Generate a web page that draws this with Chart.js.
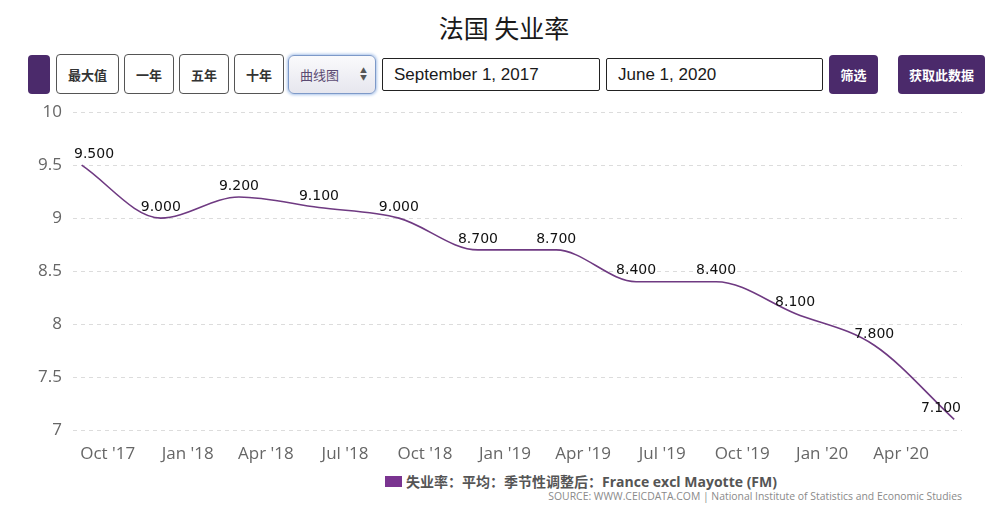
<!DOCTYPE html>
<html>
<head>
<meta charset="utf-8">
<script src="https://cdn.jsdelivr.net/npm/chart.js@4/dist/chart.umd.min.js"></script>
<style>
  html,body{margin:0;padding:0;background:#fff;width:1008px;height:522px;overflow:hidden;}
  body{position:relative;font-family:"Liberation Sans","Noto Sans CJK SC",sans-serif;}
  .abs{position:absolute;box-sizing:border-box;}
  #title{left:0;width:1008px;top:9px;text-align:center;font-family:"Noto Sans CJK SC",sans-serif;font-size:25px;color:#1a1a1a;line-height:36px;}
  .btn{top:54px;height:40px;border:1px solid #555;border-radius:4px;background:#fff;color:#333;font-family:"Noto Sans CJK SC",sans-serif;font-weight:bold;font-size:13px;display:flex;align-items:center;justify-content:center;}
  .pbtn{top:55px;height:39px;border-radius:4px;background:#4b2a6b;color:#fff;font-family:"Noto Sans CJK SC",sans-serif;font-weight:bold;font-size:13px;display:flex;align-items:center;justify-content:center;}
  .inp{top:58px;height:33px;border:1px solid #222;border-radius:2px;background:#fff;color:#1a1a1a;font-size:17px;padding-left:11px;display:flex;align-items:center;}
  #sel{left:288px;top:55px;width:88px;height:39px;border:1px solid #7d99c8;border-radius:6px;box-shadow:0 0 3px 1px #a9c3ea;background:linear-gradient(#fafafc,#e6e6ee);color:#5b4a72;font-family:"Noto Sans CJK SC",sans-serif;font-size:13px;display:flex;align-items:center;padding-left:11px;}
  #arr{position:absolute;right:8px;top:11px;font-size:7px;line-height:7px;color:#555;}
  #chartWrap{left:0;top:91px;width:1008px;height:374px;}
  #legend{left:385px;top:471px;height:20px;display:flex;align-items:center;font-family:"Open Sans","Noto Sans CJK SC",sans-serif;font-weight:bold;font-size:14px;color:#555;white-space:nowrap;}
  #legend .sw{width:17px;height:11px;background:#7a3490;margin-right:4px;}
  #source{right:46px;top:489px;font-family:"Open Sans",sans-serif;font-size:10.4px;color:#8a8a8a;white-space:nowrap;}
</style>
</head>
<body>
<div id="title" class="abs">法国 失业率</div>
<div class="abs pbtn" style="left:28px;width:22px;"></div>
<div class="abs btn" style="left:56px;width:63px;">最大值</div>
<div class="abs btn" style="left:124px;width:50px;">一年</div>
<div class="abs btn" style="left:179px;width:50px;">五年</div>
<div class="abs btn" style="left:234px;width:50px;">十年</div>
<div id="sel" class="abs">曲线图<div id="arr">▲<br>▼</div></div>
<div class="abs inp" style="left:382px;width:218px;">September 1, 2017</div>
<div class="abs inp" style="left:606px;width:217px;">June 1, 2020</div>
<div class="abs pbtn" style="left:829px;width:49px;">筛选</div>
<div class="abs pbtn" style="left:898px;width:87px;">获取此数据</div>
<div id="chartWrap" class="abs"><canvas id="c" width="1008" height="374"></canvas></div>
<div id="legend" class="abs"><div class="sw"></div>失业率：平均：季节性调整后：France excl Mayotte (FM)</div>
<div id="source" class="abs">SOURCE: WWW.CEICDATA.COM | National Institute of Statistics and Economic Studies</div>
<script>
const dates = ["2017-09-01","2017-12-01","2018-03-01","2018-06-01","2018-09-01","2018-12-01","2019-03-01","2019-06-01","2019-09-01","2019-12-01","2020-03-01","2020-06-01"];
const values = [9.5, 9.0, 9.2, 9.1, 9.0, 8.7, 8.7, 8.4, 8.4, 8.1, 7.8, 7.1];
const tickDates = ["2017-10-01","2018-01-01","2018-04-01","2018-07-01","2018-10-01","2019-01-01","2019-04-01","2019-07-01","2019-10-01","2020-01-01","2020-04-01"];
const tickLabels = ["Oct '17","Jan '18","Apr '18","Jul '18","Oct '18","Jan '19","Apr '19","Jul '19","Oct '19","Jan '20","Apr '20"];
const yTicks = [7, 7.5, 8, 8.5, 9, 9.5, 10];
const seriesName = "失业率：平均：季节性调整后：France excl Mayotte (FM)";

const day = s => Date.parse(s + "T00:00:00Z") / 86400000;
const points = dates.map((d, i) => ({x: day(d), y: values[i]}));
const tickVals = tickDates.map(day);
const xMin = day("2017-08-22"), xMax = day("2020-06-10");

const labelPlugin = {
  id: 'valLabels',
  afterDatasetsDraw(chart) {
    const ctx = chart.ctx, meta = chart.getDatasetMeta(0), area = chart.chartArea;
    ctx.save();
    ctx.font = '14px "DejaVu Sans"';
    ctx.fillStyle = '#111';
    ctx.textBaseline = 'bottom';
    ctx.textAlign = 'left';
    meta.data.forEach((pt, i) => {
      const txt = values[i].toFixed(3);
      const w = ctx.measureText(txt).width;
      let x = pt.x - w / 2;
      if (x < area.left) x = area.left + 1;
      if (x + w > area.right) x = area.right - w - 1;
      ctx.fillText(txt, x, pt.y - 4);
    });
    ctx.restore();
  }
};

new Chart(document.getElementById('c'), {
  type: 'line',
  data: {
    datasets: [{
      label: seriesName,
      data: points,
      borderColor: '#6f3a82',
      borderWidth: 1.6,
      pointRadius: 0,
      fill: false,
      cubicInterpolationMode: 'monotone'
    }]
  },
  options: {
    responsive: false,
    animation: false,
    layout: {padding: {top: 3, right: 46, left: 0, bottom: 0}},
    plugins: {legend: {display: false}, tooltip: {enabled: false}},
    scales: {
      x: {
        type: 'linear',
        min: xMin, max: xMax,
        afterBuildTicks: s => { s.ticks = tickVals.map(v => ({value: v})); },
        afterFit: s => { s.height = 35; },
        grid: {display: false},
        border: {display: false},
        ticks: {
          autoSkip: false, maxRotation: 0, padding: 6,
          color: '#666', font: {family: '"Open Sans"', size: 17},
          callback: v => { const i = tickVals.indexOf(v); return i >= 0 ? tickLabels[i] : ''; }
        }
      },
      y: {
        min: 7, max: 10,
        afterBuildTicks: s => { s.ticks = yTicks.map(v => ({value: v})); },
        afterFit: s => { s.width = 73; },
        border: {display: false, dash: [4, 4]},
        grid: {color: '#dcdcdc', lineWidth: 1, drawTicks: false},
        ticks: {
          padding: 11, color: '#666', font: {family: '"Open Sans"', size: 17},
          callback: v => String(v)
        }
      }
    }
  },
  plugins: [labelPlugin]
});
</script>
</body>
</html>
